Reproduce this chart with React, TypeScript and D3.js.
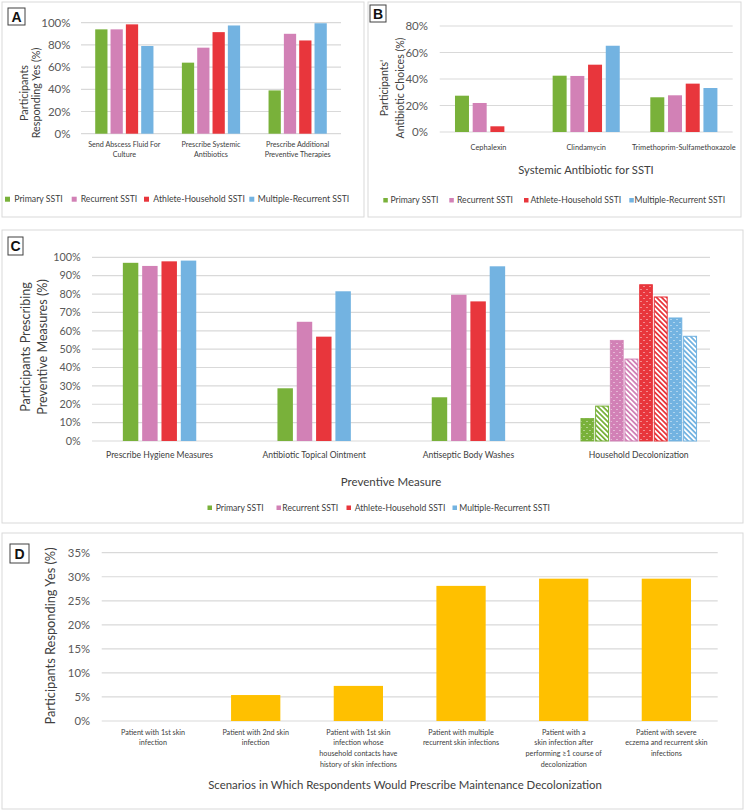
import React from 'react';
import * as d3 from 'd3';

// ---------- DATA ----------
const seriesNames = ['Primary SSTI', 'Recurrent SSTI', 'Athlete-Household SSTI', 'Multiple-Recurrent SSTI'];

// Panel A
const aCategories = ['Send Abscess Fluid For\nCulture', 'Prescribe Systemic\nAntibiotics', 'Prescribe Additional\nPreventive Therapies'];
const aPrimary = [94, 64, 39];
const aRecurrent = [94, 77.5, 90];
const aAthlete = [98.5, 91.5, 84];
const aMultiple = [79, 97.5, 99.5];
const aTicks = [0, 20, 40, 60, 80, 100];

// Panel B
const bCategories = ['Cephalexin', 'Clindamycin', 'Trimethoprim-Sulfamethoxazole'];
const bPrimary = [27.4, 42.5, 26.2];
const bRecurrent = [21.9, 42.3, 27.7];
const bAthlete = [4.3, 50.8, 36.5];
const bMultiple = [0, 65.1, 33.2];
const bTicks = [0, 20, 40, 60, 80];

// Panel C
const cCategories = ['Prescribe Hygiene Measures', 'Antibiotic Topical Ointment', 'Antiseptic Body Washes', 'Household Decolonization'];
const cPrimary = [97, 28.7, 23.8];
const cRecurrent = [95.3, 64.9, 79.6];
const cAthlete = [97.8, 56.8, 76];
const cMultiple = [98.2, 81.5, 95.1];
const cDecolPatient = [12.3, 54.8, 85.1, 67];
const cDecolHousehold = [19, 44.6, 78.4, 57];
const cTicks = [0, 10, 20, 30, 40, 50, 60, 70, 80, 90, 100];

// Panel D
const dCategories = [
  'Patient with 1st skin\ninfection',
  'Patient with 2nd skin\ninfection',
  'Patient with 1st skin\ninfection whose\nhousehold contacts have\nhistory of skin infections',
  'Patient with multiple\nrecurrent skin infections',
  'Patient with a\nskin infection after\nperforming \u22651 course of\ndecolonization',
  'Patient with severe\neczema and recurrent skin\ninfections',
];
const dValues = [0, 5.4, 7.3, 28.1, 29.6, 29.6];
const dTicks = [0, 5, 10, 15, 20, 25, 30, 35];

// ---------- STYLE ----------
const FONT = 'Lato, "Open Sans", "Noto Sans", sans-serif';
const COLORS = ['#79B13A', '#D281B6', '#E8363C', '#73B3E1'];
const GOLD = '#FFC000';
const GRID = '#D9D9D9';
const TXT = '#404040';
const TICK = '#595959';

type LegendProps = { items: number[]; texts: number[]; y: number; size: number; fs: number };
function Legend({ items, texts, y, size, fs }: LegendProps) {
  return (
    <g>
      {seriesNames.map((n, i) => (
        <g key={n}>
          <rect x={items[i]} y={y - size / 2 - fs * 0.32} width={size} height={size} fill={COLORS[i]} />
          <text x={texts[i]} y={y} fontSize={fs} fill={TXT} fontFamily={FONT}>{n}</text>
        </g>
      ))}
    </g>
  );
}

function PanelFrame({ x, y, w, h, label, bx, by, bw, bh }: any) {
  return (
    <g>
      <rect x={x} y={y} width={w} height={h} fill="#FFFFFF" stroke="#D9D9D9" strokeWidth={1} />
      <rect x={bx} y={by} width={bw} height={bh} fill="#FFFFFF" stroke="#404040" strokeWidth={1} />
      <text x={bx + bw / 2} y={by + bh / 2 + 5} textAnchor="middle" fontSize={14} fontWeight="bold" fontFamily="Arial, 'Liberation Sans', sans-serif" fill="#111">{label}</text>
    </g>
  );
}

function MultiText({ x, y, text, fs, lh, anchor = 'middle', fill = TXT }: any) {
  const lines = text.split('\n');
  return (
    <text x={x} y={y} fontSize={fs} fill={fill} fontFamily={FONT} textAnchor={anchor}>
      {lines.map((l: string, i: number) => (
        <tspan key={i} x={x} dy={i === 0 ? 0 : lh}>{l}</tspan>
      ))}
    </text>
  );
}

function YTitle({ cx, cy, lines, fs, gap }: any) {
  return (
    <text transform={`translate(${cx},${cy}) rotate(-90)`} fontSize={fs} fill={TXT} fontFamily={FONT} textAnchor="middle">
      {lines.map((l: string, i: number) => (
        <tspan key={i} x={0} y={i * gap}>{l}</tspan>
      ))}
    </text>
  );
}

// ---------- PANEL A ----------
function PanelA() {
  const values = [aPrimary, aRecurrent, aAthlete, aMultiple];
  const y = d3.scaleLinear().domain([0, 100]).range([133.7, 22.7]);
  const x0 = d3.scaleBand<string>().domain(aCategories).range([81, 341]);
  const gw = x0.bandwidth() * 0.672;
  const x1 = d3.scaleBand<string>().domain(seriesNames).range([(x0.bandwidth() - gw) / 2, (x0.bandwidth() + gw) / 2]).paddingInner(0.2);
  return (
    <g>
      <PanelFrame x={2} y={2} w={362} h={215} label="A" bx={8} by={8} bw={17} bh={17} />
      {aTicks.map((t) => (
        <g key={t}>
          <line x1={81} x2={341} y1={y(t)} y2={y(t)} stroke={GRID} strokeWidth={1.2} />
          <text x={70.5} y={y(t) + 4} textAnchor="end" fontSize={11.5} fill={TICK} fontFamily={FONT}>{t}%</text>
        </g>
      ))}
      {aCategories.map((c, ci) => (
        <g key={c} transform={`translate(${x0(c)},0)`}>
          {seriesNames.map((s, si) => (
            <rect key={s} x={x1(s)} y={y(values[si][ci])} width={x1.bandwidth()} height={y(0) - y(values[si][ci])} fill={COLORS[si]} />
          ))}
          <MultiText x={x0.bandwidth() / 2} y={147} text={c} fs={7.2} lh={10} />
        </g>
      ))}
      <YTitle cx={28} cy={93} lines={['Participants', 'Responding Yes (%)']} fs={10.8} gap={11.5} />
      <Legend items={[5, 71.7, 144, 249.3]} texts={[14.3, 80.7, 153.3, 257.7]} y={202} size={5} fs={8.7} />
    </g>
  );
}

// ---------- PANEL B ----------
function PanelB() {
  const values = [bPrimary, bRecurrent, bAthlete, bMultiple];
  const y = d3.scaleLinear().domain([0, 80]).range([132, 26]);
  const x0 = d3.scaleBand<string>().domain(bCategories).range([439.7, 732.7]);
  const gw = x0.bandwidth() * 0.687;
  const x1 = d3.scaleBand<string>().domain(seriesNames).range([(x0.bandwidth() - gw) / 2, (x0.bandwidth() + gw) / 2]).paddingInner(0.21);
  return (
    <g>
      <PanelFrame x={368} y={2} w={373} h={215} label="B" bx={370} by={5} bw={16} bh={17} />
      {bTicks.map((t) => (
        <g key={t}>
          <line x1={439.7} x2={732.7} y1={y(t)} y2={y(t)} stroke={GRID} strokeWidth={1.2} />
          <text x={428} y={y(t) + 4} textAnchor="end" fontSize={11.5} fill={TICK} fontFamily={FONT}>{t}%</text>
        </g>
      ))}
      {bCategories.map((c, ci) => (
        <g key={c} transform={`translate(${x0(c)},0)`}>
          {seriesNames.map((s, si) => values[si][ci] > 0 ? (
            <rect key={s} x={x1(s)} y={y(values[si][ci])} width={x1.bandwidth()} height={y(0) - y(values[si][ci])} fill={COLORS[si]} />
          ) : null)}
          <MultiText x={x0.bandwidth() / 2} y={149.5} text={c} fs={7.4} lh={10} />
        </g>
      ))}
      <text x={586} y={174} textAnchor="middle" fontSize={11.2} fill={TXT} fontFamily={FONT}>Systemic Antibiotic for SSTI</text>
      <YTitle cx={388} cy={88} lines={["Participants'", 'Antibiotic Choices (%)']} fs={10.5} gap={15.5} />
      <Legend items={[383.3, 449.3, 524, 629.3]} texts={[390.5, 457, 530.5, 634.5]} y={203} size={4.5} fs={8.6} />
    </g>
  );
}

// ---------- PANEL C ----------
function PanelC() {
  const values = [cPrimary, cRecurrent, cAthlete, cMultiple];
  const y = d3.scaleLinear().domain([0, 100]).range([441, 257.3]);
  const x0 = d3.scaleBand<string>().domain(cCategories).range([92, 710]);
  const groupShift = [-9.7, -9.6, -9.8, 6];
  const bw = x0.bandwidth();
  const gw4 = 73.4;
  const x1 = d3.scaleBand<string>().domain(seriesNames).range([(bw - gw4) / 2, (bw + gw4) / 2]).paddingInner(0.2);
  const keys8 = seriesNames.flatMap((s) => [s + '|p', s + '|h']);
  const gw8 = 115.6;
  const x8 = d3.scaleBand<string>().domain(keys8).range([(bw - gw8) / 2, (bw + gw8) / 2]).paddingInner(0.12);
  return (
    <g>
      <defs>
        {COLORS.map((c, i) => (
          <g key={i}>
            <pattern id={`dot${i}`} width={6} height={6} patternUnits="userSpaceOnUse">
              <rect width={6} height={6} fill={c} />
              <rect x={1} y={1} width={1} height={1} fill="#FFFFFF" opacity={0.85} />
              <rect x={4} y={4} width={1} height={1} fill="#FFFFFF" opacity={0.85} />
            </pattern>
            <pattern id={`hatch${i}`} width={3.6} height={3.6} patternUnits="userSpaceOnUse" patternTransform="rotate(-45)">
              <rect width={3.6} height={3.6} fill="#FFFFFF" />
              <rect width={1.8} height={3.6} fill={c} />
            </pattern>
          </g>
        ))}
      </defs>
      <PanelFrame x={2} y={230} w={741} h={293} label="C" bx={8} by={237} bw={15} bh={18} />
      {cTicks.map((t) => (
        <g key={t}>
          <line x1={92} x2={710} y1={y(t)} y2={y(t)} stroke={GRID} strokeWidth={1.2} />
          <text x={80.7} y={y(t) + 3.8} textAnchor="end" fontSize={10.8} fill={TICK} fontFamily={FONT}>{t}%</text>
        </g>
      ))}
      {cCategories.map((c, ci) => (
        <g key={c} transform={`translate(${(x0(c) as number) + groupShift[ci]},0)`}>
          {ci < 3
            ? seriesNames.map((s, si) => (
                <rect key={s} x={x1(s)} y={y(values[si][ci])} width={x1.bandwidth()} height={y(0) - y(values[si][ci])} fill={COLORS[si]} />
              ))
            : seriesNames.map((s, si) => (
                <g key={s}>
                  <rect x={x8(s + '|p')} y={y(cDecolPatient[si])} width={x8.bandwidth()} height={y(0) - y(cDecolPatient[si])} fill={`url(#dot${si})`} stroke={COLORS[si]} strokeWidth={0.8} />
                  <rect x={x8(s + '|h')} y={y(cDecolHousehold[si])} width={x8.bandwidth()} height={y(0) - y(cDecolHousehold[si])} fill={`url(#hatch${si})`} stroke={COLORS[si]} strokeWidth={1} />
                </g>
              ))}
          <MultiText x={bw / 2} y={458} text={c} fs={8.6} lh={10} />
        </g>
      ))}
      <text x={391} y={485.5} textAnchor="middle" fontSize={11.5} fill={TXT} fontFamily={FONT}>Preventive Measure</text>
      <YTitle cx={30} cy={347} lines={['Participants Prescribing', 'Preventive Measures (%)']} fs={12.6} gap={16.5} />
      <Legend items={[207.5, 276.5, 346.5, 452.5]} texts={[215.7, 282.3, 354.7, 459.3]} y={510.5} size={4.5} fs={8.6} />
    </g>
  );
}

// ---------- PANEL D ----------
function PanelD() {
  const y = d3.scaleLinear().domain([0, 35]).range([721, 552.7]);
  const x = d3.scaleBand<string>().domain(dCategories).range([101.7, 717.7]).paddingInner(0.52).paddingOuter(0.26);
  return (
    <g>
      <PanelFrame x={2} y={533} w={741} h={276} label="D" bx={10} by={544} bw={19} bh={19} />
      {dTicks.map((t) => (
        <g key={t}>
          <line x1={101.7} x2={717.7} y1={y(t)} y2={y(t)} stroke={GRID} strokeWidth={1.2} />
          <text x={90} y={y(t) + 4} textAnchor="end" fontSize={11.3} fill={TICK} fontFamily={FONT}>{t}%</text>
        </g>
      ))}
      {dCategories.map((c, i) => (
        <g key={i}>
          {dValues[i] > 0 && (
            <rect x={x(c)} y={y(dValues[i])} width={x.bandwidth()} height={y(0) - y(dValues[i])} fill={GOLD} />
          )}
          <MultiText x={(x(c) as number) + x.bandwidth() / 2} y={734.5} text={c} fs={7.2} lh={10.7} />
        </g>
      ))}
      <text x={405} y={788.5} textAnchor="middle" fontSize={11.4} fill={TXT} fontFamily={FONT}>Scenarios in Which Respondents Would Prescribe Maintenance Decolonization</text>
      <YTitle cx={55} cy={636} lines={['Participants Responding Yes (%)']} fs={12.8} gap={0} />
    </g>
  );
}

export default function App() {
  return (
    <svg width={745} height={811} viewBox="0 0 745 811" style={{ position: 'absolute', left: 0, top: 0, background: '#FFFFFF' }}>
      <rect width={745} height={811} fill="#FFFFFF" />
      <PanelA />
      <PanelB />
      <PanelC />
      <PanelD />
    </svg>
  );
}
